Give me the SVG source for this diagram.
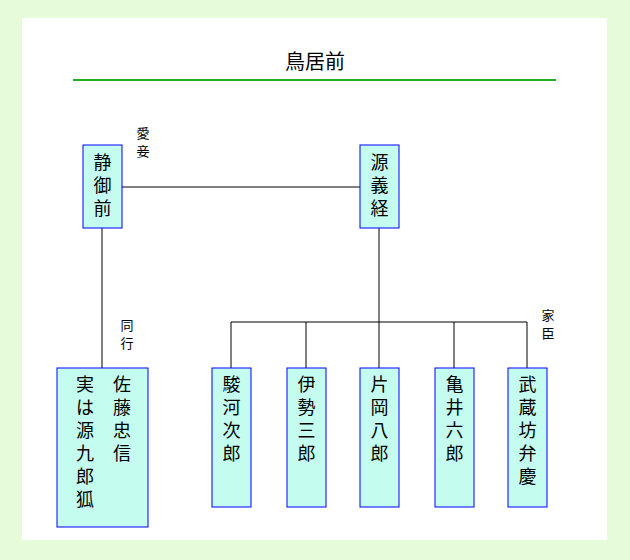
<svg xmlns="http://www.w3.org/2000/svg" width="630" height="560" viewBox="0 0 630 560">
<style>
.b{fill:#c4fcf0;stroke:#0000ff;stroke-width:1}
.t{font-family:"Noto Sans CJK JP","Noto Sans",sans-serif;font-size:18px;fill:#000;text-anchor:middle}
.s{font-family:"Noto Sans CJK JP","Noto Sans",sans-serif;font-size:13px;fill:#000;text-anchor:middle}
.c{stroke:#000;stroke-width:1;fill:none}
</style>
<rect x="0" y="0" width="630" height="560" fill="#e6fcd9"/>
<rect x="22" y="18" width="585" height="522" fill="#ffffff"/>
<text x="315" y="69" class="t" style="font-size:20px">鳥居前</text>
<line x1="73" y1="80" x2="556" y2="80" stroke="#22b022" stroke-width="2"/>
<g id="connectors">
<line class="c" x1="122" y1="187" x2="360" y2="187"/>
<line class="c" x1="102" y1="228" x2="102" y2="368"/>
<line class="c" x1="379" y1="228" x2="379" y2="368"/>
<line class="c" x1="231" y1="322" x2="527" y2="322"/>
<line class="c" x1="231" y1="322" x2="231" y2="368"/>
<line class="c" x1="306" y1="322" x2="306" y2="368"/>
<line class="c" x1="454" y1="322" x2="454" y2="368"/>
<line class="c" x1="527" y1="322" x2="527" y2="368"/>
<text class="s" x="143" y="138">愛</text><text class="s" x="143" y="156">妾</text>
<text class="s" x="127" y="330">同</text><text class="s" x="127" y="348">行</text>
<text class="s" x="548" y="320">家</text><text class="s" x="548" y="338">臣</text>
</g>
<g id="shizuka"><rect class="b" x="83" y="145" width="39" height="83"/>
<text class="t" x="102.5" y="169">静</text><text class="t" x="102.5" y="192">御</text><text class="t" x="102.5" y="215">前</text></g>
<g id="yoshitsune"><rect class="b" x="360" y="145" width="39" height="83"/>
<text class="t" x="379.5" y="169">源</text><text class="t" x="379.5" y="192">義</text><text class="t" x="379.5" y="215">経</text></g>
<g id="tadanobu"><rect class="b" x="57" y="368" width="91" height="159"/>
<text class="t" x="122" y="391">佐</text><text class="t" x="122" y="414">藤</text><text class="t" x="122" y="437">忠</text><text class="t" x="122" y="460">信</text>
<text class="t" x="85" y="391">実</text><text class="t" x="85" y="414">は</text><text class="t" x="85" y="437">源</text><text class="t" x="85" y="460">九</text><text class="t" x="85" y="483">郎</text><text class="t" x="85" y="506">狐</text></g>
<g id="suruga"><rect class="b" x="212" y="368" width="39" height="139"/>
<text class="t" x="231.5" y="391">駿</text><text class="t" x="231.5" y="414">河</text><text class="t" x="231.5" y="437">次</text><text class="t" x="231.5" y="460">郎</text></g>
<g id="ise"><rect class="b" x="287" y="368" width="39" height="139"/>
<text class="t" x="306.5" y="391">伊</text><text class="t" x="306.5" y="414">勢</text><text class="t" x="306.5" y="437">三</text><text class="t" x="306.5" y="460">郎</text></g>
<g id="kataoka"><rect class="b" x="360" y="368" width="39" height="139"/>
<text class="t" x="379.5" y="391">片</text><text class="t" x="379.5" y="414">岡</text><text class="t" x="379.5" y="437">八</text><text class="t" x="379.5" y="460">郎</text></g>
<g id="kamei"><rect class="b" x="435" y="368" width="39" height="139"/>
<text class="t" x="454.5" y="391">亀</text><text class="t" x="454.5" y="414">井</text><text class="t" x="454.5" y="437">六</text><text class="t" x="454.5" y="460">郎</text></g>
<g id="benkei"><rect class="b" x="508" y="368" width="39" height="139"/>
<text class="t" x="527.5" y="391">武</text><text class="t" x="527.5" y="414">蔵</text><text class="t" x="527.5" y="437">坊</text><text class="t" x="527.5" y="460">弁</text><text class="t" x="527.5" y="483">慶</text></g>
</svg>
